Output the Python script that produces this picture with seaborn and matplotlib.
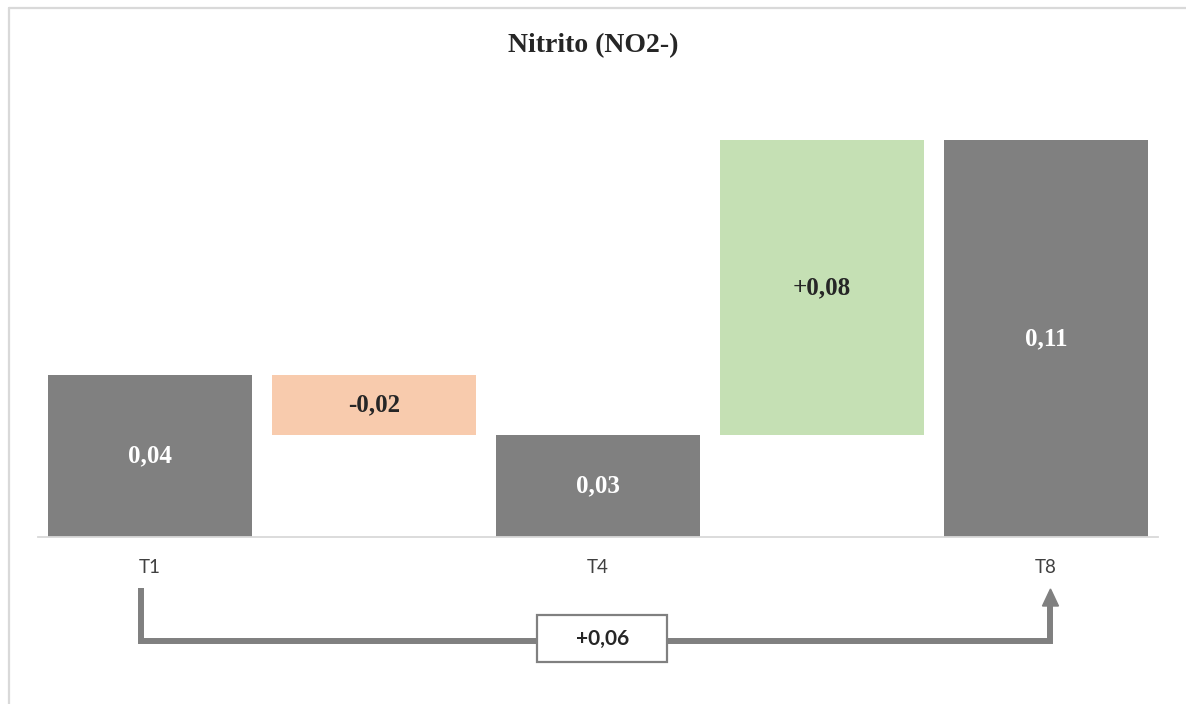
import numpy as np
import pandas as pd
import seaborn as sns
import matplotlib
matplotlib.use("Agg")
import matplotlib.pyplot as plt
from matplotlib.patches import Rectangle, Polygon
from matplotlib.lines import Line2D
from matplotlib.transforms import blended_transform_factory

# --- data -------------------------------------------------------------
sample_times = ["T1", "T4", "T8"]
nitrite_levels = [0.0443, 0.028, 0.1085]   # mg/L at each sampling time
title = "Nitrito (NO2-)"

total_color = "#808080"
decrease_color = "#F8CBAD"
increase_color = "#C5E0B4"

# --- waterfall layout: totals interleaved with step changes -----------
steps, heights, bottoms, colors, labels, is_total = [], [], [], [], [], []
for i, (name, val) in enumerate(zip(sample_times, nitrite_levels)):
    if i > 0:
        prev = nitrite_levels[i - 1]
        delta = val - prev
        steps.append(f"{sample_times[i-1]}-{name}")
        heights.append(abs(delta))
        bottoms.append(min(prev, val))
        colors.append(increase_color if delta > 0 else decrease_color)
        labels.append(f"{delta:+.2f}".replace(".", ","))
        is_total.append(False)
    steps.append(name)
    heights.append(val)
    bottoms.append(0.0)
    colors.append(total_color)
    labels.append(f"{val:.2f}".replace(".", ","))
    is_total.append(True)

df = pd.DataFrame({"step": steps, "height": heights, "bottom": bottoms})
overall = nitrite_levels[-1] - nitrite_levels[0]

# --- figure -----------------------------------------------------------
sns.set_theme(style="white")
plt.rcParams["font.family"] = ["Lato", "DejaVu Sans"]

W, H = 1186, 704
fig = plt.figure(figsize=(W / 100, H / 100), dpi=100)
ax = fig.add_axes([38 / W, 1 - 537 / H, 1120 / W, (537 - 98) / H])

sns.barplot(data=df, x="step", y="height", bottom=df["bottom"].values,
            width=0.907, color=total_color, saturation=1, errorbar=None,
            linewidth=0, ax=ax)
for patch, c in zip(ax.patches, colors):
    patch.set_facecolor(c)
    patch.set_edgecolor(c)

ax.set_xlim(-0.5, len(steps) - 0.5)
ax.set_ylim(0, 0.12)

# value labels centred in each bar
for i, (h, b, lab, tot) in enumerate(zip(heights, bottoms, labels, is_total)):
    ax.text(i, b + h / 2, lab, ha="center", va="center",
            family="Liberation Serif", fontweight="bold", fontsize=18,
            color="white" if tot else "#262626")

# axes styling
for side in ["left", "right", "top"]:
    ax.spines[side].set_visible(False)
ax.spines["bottom"].set_color("#D9D9D9")
ax.spines["bottom"].set_linewidth(1.3)
ax.set_yticks([])
ax.set_xlabel("")
ax.set_ylabel("")
ax.set_xticks([i for i, t in enumerate(is_total) if t])
ax.set_xticklabels(sample_times, fontsize=13.5, color="#404040")
ax.tick_params(axis="x", length=0, pad=16)

fig.text(0.5, 1 - 46 / H, title, ha="center", va="center",
         family="Liberation Serif", fontweight="bold", fontsize=20,
         color="#262626")

# overall-change bracket from first to last sampling time
tr = blended_transform_factory(ax.transData, ax.transAxes)
ax_h = 537 - 98
def yax(py):
    return (537 - py) / ax_h

first_x = steps.index(sample_times[0]) - 0.04
last_x = steps.index(sample_times[-1]) + 0.02
line_y = yax(641)
bracket_col = "#808080"
ax.add_line(Line2D([first_x, first_x, last_x, last_x],
                   [yax(588), line_y, line_y, yax(605)],
                   transform=tr, color=bracket_col, lw=4.3,
                   solid_joinstyle="miter", solid_capstyle="butt",
                   clip_on=False))
# arrow head
hw = 8 / 224
ax.add_patch(Polygon([[last_x - hw, yax(606)], [last_x + hw, yax(606)],
                      [last_x, yax(589)]], closed=True, transform=tr,
                     facecolor=bracket_col, edgecolor=bracket_col,
                     clip_on=False))

box_cx = (first_x + last_x) / 2 + 0.03
box_w = 130 / 224
box_h = 47 / ax_h
ax.add_patch(Rectangle((box_cx - box_w / 2, yax(638.5) - box_h / 2),
                       box_w, box_h, transform=tr, facecolor="white",
                       edgecolor=bracket_col, lw=1.6, clip_on=False,
                       zorder=5))
ax.text(box_cx, yax(638.5), f"{overall:+.2f}".replace(".", ","),
        transform=tr, ha="center", va="center", fontsize=15,
        fontweight="bold", color="#262626", zorder=6)

# chart frame
frame_col = "#D9D9D9"
fig.add_artist(Line2D([8.5 / W, 1.0], [1 - 7.5 / H, 1 - 7.5 / H],
                      color=frame_col, lw=1.6))
fig.add_artist(Line2D([8.5 / W, 8.5 / W], [0.0, 1 - 7.5 / H],
                      color=frame_col, lw=1.6))

fig.savefig("out.png", dpi=100)
